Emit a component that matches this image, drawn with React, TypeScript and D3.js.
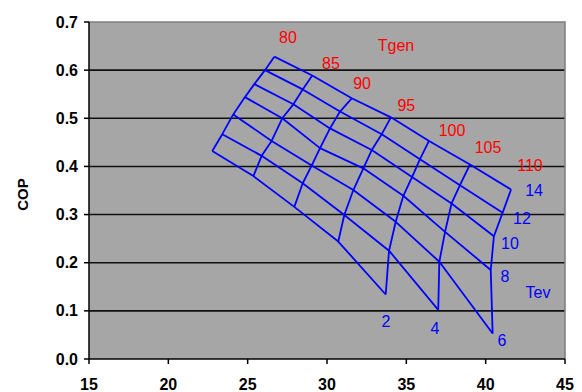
import React from "react";
import * as d3 from "d3";

// generator temperatures (one near-vertical line each) and evaporator temperatures (one diagonal line each)
const tgenValues = [80, 85, 90, 95, 100, 105, 110];
const tevValues = [14, 12, 10, 8, 6, 4, 2];

// x value of each node, per Tgen line, ordered Tev 14 -> 2 (the high-Tgen lines stop early)
const xByTgen: number[][] = [
  [26.68, 26.09, 25.42, 24.83, 24.09, 23.4, 22.77],
  [29.07, 28.47, 27.88, 27.18, 26.51, 25.88, 25.36],
  [31.56, 30.82, 30.19, 29.56, 29.04, 28.47, 27.94],
  [34.03, 33.45, 32.82, 32.29, 31.66, 31.09, 30.71],
  [36.43, 35.86, 35.36, 34.81, 34.33, 33.91, 33.7],
  [39.01, 38.38, 37.85, 37.44, 37.08, 37.01],
  [41.6, 41.07, 40.52, 40.32, 40.44],
];

// COP of each node, same layout
const copByTgen: number[][] = [
  [0.628, 0.6, 0.571, 0.544, 0.508, 0.467, 0.432],
  [0.589, 0.56, 0.529, 0.5, 0.453, 0.422, 0.38],
  [0.5415, 0.514, 0.479, 0.438, 0.402, 0.365, 0.316],
  [0.502, 0.467, 0.434, 0.396, 0.351, 0.299, 0.244],
  [0.453, 0.415, 0.378, 0.339, 0.285, 0.225, 0.134],
  [0.404, 0.361, 0.323, 0.264, 0.202, 0.102],
  [0.352, 0.304, 0.255, 0.185, 0.053],
];

// where the labels sit, in data units
const tgenLabelX = [27.54, 30.25, 32.21, 35.0, 37.88, 40.15, 42.79];
const tgenLabelY = [0.667, 0.613, 0.572, 0.527, 0.474, 0.44, 0.401];
const tevLabelX = [43.05, 42.29, 41.53, 41.22, 41.03, 36.81, 33.72];
const tevLabelY = [0.351, 0.292, 0.24, 0.171, 0.039, 0.064, 0.078];

const xTicks = [15, 20, 25, 30, 35, 40, 45];
const yTicks = [0, 0.1, 0.2, 0.3, 0.4, 0.5, 0.6, 0.7];

const W = 582;
const H = 392;
const left = 89;
const right = 565;
const top = 22;
const bottom = 359;
const font = "'Liberation Sans', Arial, sans-serif";

export default function App() {
  const x = d3.scaleLinear().domain([15, 45]).range([left, right]);
  const y = d3.scaleLinear().domain([0, 0.7]).range([bottom, top]);

  const line = d3
    .line<[number, number]>()
    .x((d) => x(d[0]))
    .y((d) => y(d[1]));

  const tgenLines = tgenValues.map((_, i) =>
    xByTgen[i].map((v, j) => [v, copByTgen[i][j]] as [number, number])
  );
  const tevLines = tevValues.map((_, j) =>
    tgenValues
      .map((_, i) => (j < xByTgen[i].length ? ([xByTgen[i][j], copByTgen[i][j]] as [number, number]) : null))
      .filter((p): p is [number, number] => p !== null)
  );

  return (
    <svg width={W} height={H} style={{ position: "absolute", left: 0, top: 0, background: "#fff" }}>
      <rect x={left} y={top} width={right - left} height={bottom - top} fill="#a6a6a6" />
      {yTicks.slice(1, -1).map((t) => (
        <line key={t} x1={left} x2={right} y1={y(t)} y2={y(t)} stroke="#111" strokeWidth={1.6} />
      ))}
      <path
        d={`M${left},${top}H${right}V${bottom}`}
        fill="none"
        stroke="#808080"
        strokeWidth={1.6}
      />

      {tgenLines.map((pts, i) => (
        <path key={"g" + i} d={line(pts) || ""} fill="none" stroke="#0000ff" strokeWidth={1.8} strokeLinejoin="round" />
      ))}
      {tevLines.map((pts, j) => (
        <path key={"e" + j} d={line(pts) || ""} fill="none" stroke="#0000ff" strokeWidth={1.8} strokeLinejoin="round" />
      ))}

      {tgenValues.map((v, i) => (
        <text
          key={"gl" + v}
          x={x(tgenLabelX[i])}
          y={y(tgenLabelY[i])}
          fill="#ff0000"
          fontFamily={font}
          fontSize={16}
          textAnchor="middle"
          dominantBaseline="central"
        >
          {v}
        </text>
      ))}
      <text x={x(34.35)} y={y(0.652)} fill="#ff0000" fontFamily={font} fontSize={16} textAnchor="middle" dominantBaseline="central">
        Tgen
      </text>
      {tevValues.map((v, j) => (
        <text
          key={"el" + v}
          x={x(tevLabelX[j])}
          y={y(tevLabelY[j])}
          fill="#0000ff"
          fontFamily={font}
          fontSize={16}
          textAnchor="middle"
          dominantBaseline="central"
        >
          {v}
        </text>
      ))}
      <text x={x(43.3)} y={y(0.139)} fill="#0000ff" fontFamily={font} fontSize={16} textAnchor="middle" dominantBaseline="central">
        Tev
      </text>

      {/* axes */}
      <line x1={left} x2={left} y1={top} y2={bottom} stroke="#000" strokeWidth={1.5} />
      <line x1={left} x2={right} y1={bottom} y2={bottom} stroke="#000" strokeWidth={1.5} />
      {yTicks.map((t) => (
        <g key={"yt" + t}>
          <line x1={left - 5} x2={left} y1={y(t)} y2={y(t)} stroke="#000" strokeWidth={1.5} />
          <text
            x={left - 11}
            y={y(t)}
            fontFamily={font}
            fontSize={16}
            fontWeight="bold"
            textAnchor="end"
            dominantBaseline="central"
          >
            {d3.format(".1f")(t)}
          </text>
        </g>
      ))}
      {xTicks.map((t) => (
        <g key={"xt" + t}>
          <line x1={x(t)} x2={x(t)} y1={bottom} y2={bottom + 5} stroke="#000" strokeWidth={1.5} />
          <text x={x(t)} y={390} fontFamily={font} fontSize={16} fontWeight="bold" textAnchor="middle">
            {t}
          </text>
        </g>
      ))}
      <text
        transform={`translate(28,${(top + bottom) / 2 + 4}) rotate(-90)`}
        fontFamily={font}
        fontSize={15}
        fontWeight="bold"
        textAnchor="middle"
      >
        COP
      </text>
    </svg>
  );
}
